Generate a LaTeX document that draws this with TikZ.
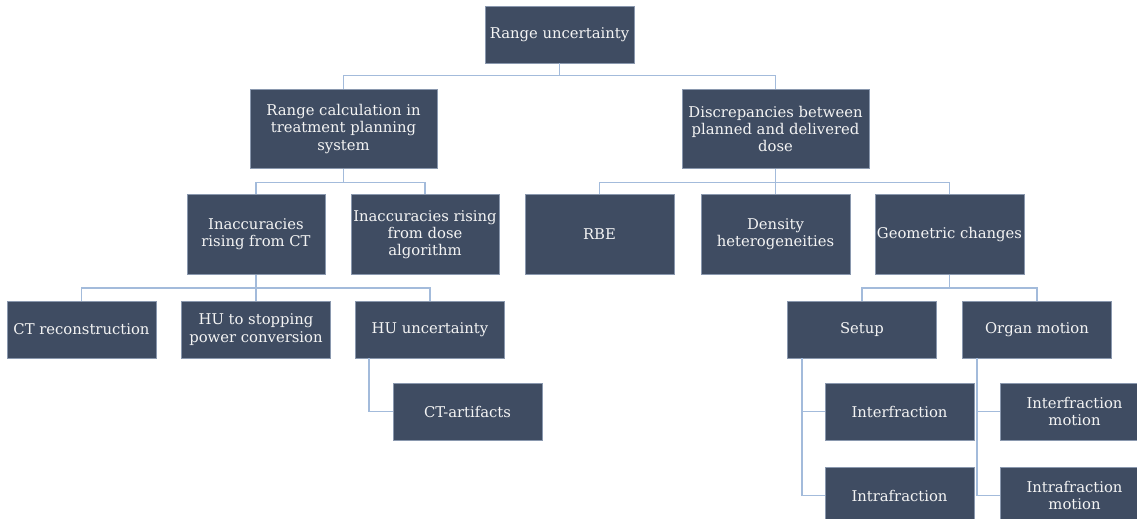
\documentclass[tikz,border=0pt]{standalone}
\usepackage{fontspec}
\setmainfont{DejaVu Serif}
\usetikzlibrary{positioning,calc}
\definecolor{boxfill}{HTML}{3F4C62}
\definecolor{boxedge}{HTML}{8A98AE}
\definecolor{linkblue}{HTML}{A3BBDB}
\definecolor{boxtext}{HTML}{F4F4F4}
\begin{document}
\begin{tikzpicture}[x=1pt,y=-1pt,
  box/.style={draw=boxedge, line width=0.6pt, fill=boxfill, text=boxtext,
    minimum width=149pt, minimum height=57pt, inner sep=1pt, align=center,
    font=\fontsize{14.8}{17.3}\selectfont},
  tallbox/.style={box, minimum height=79.5pt},
  link/.style={draw=linkblue, line width=1.5pt}]
\useasboundingbox (0,0) rectangle (1137,519);
\clip (0,0) rectangle (1137,519);

% top level
\node[box] (root) at (559.5,34.5) {Range uncertainty};

% second level
\node[tallbox, minimum width=187pt] (calc) at (343.5,129) {Range calculation in\\treatment planning\\system};
\node[tallbox, minimum width=187pt] (disc) at (775.5,129) {Discrepancies between\\planned and delivered\\dose};

% third level
\node[tallbox, minimum width=138pt] (inct) at (256,234.5) {Inaccuracies\\rising from CT};
\node[tallbox, minimum width=148pt] (indose) at (425,234.5) {Inaccuracies rising\\from dose\\algorithm};
\node[tallbox] (rbe) at (599.5,234.5) {RBE};
\node[tallbox] (dens) at (775.5,234.5) {Density\\heterogeneities};
\node[tallbox] (geom) at (949.5,234.5) {Geometric changes};

% fourth level
\node[box] (ctrec) at (81.5,329.5) {CT reconstruction};
\node[box] (hustop) at (256,329.5) {HU to stopping\\power conversion};
\node[box] (huunc) at (430,329.5) {HU uncertainty};
\node[box] (ctart) at (467.5,411.5) {CT-artifacts};
\node[box] (setup) at (862,329.5) {Setup};
\node[box] (organ) at (1037,329.5) {Organ motion};
\node[box] (inter) at (899.5,411.5) {Interfraction};
\node[box] (intra) at (899.5,495.5) {Intrafraction};
\node[box] (intermo) at (1074.5,411.5) {Interfraction\\motion};
\node[box] (intramo) at (1074.5,495.5) {Intrafraction\\motion};

% tree connectors
\draw[link] (root.south) -- ++(0,12) coordinate (b0);
\draw[link] (b0) -| (calc.north);
\draw[link] (b0) -| (disc.north);

\draw[link] (calc.south) -- ++(0,13.5) coordinate (b1);
\draw[link] (b1) -| (inct.north);
\draw[link] (b1) -| (indose.north);

\draw[link] (disc.south) -- ++(0,13.5) coordinate (b2);
\draw[link] (b2) -| (rbe.north);
\draw[link] (b2) -| (dens.north);
\draw[link] (b2) -| (geom.north);

\draw[link] (inct.south) -- ++(0,13.5) coordinate (b3);
\draw[link] (b3) -| (ctrec.north);
\draw[link] (b3) -| (hustop.north);
\draw[link] (b3) -| (huunc.north);

\draw[link] (geom.south) -- ++(0,13.5) coordinate (b4);
\draw[link] (b4) -| (setup.north);
\draw[link] (b4) -| (organ.north);

% side connectors
\draw[link] ([xshift=14pt]huunc.south west) |- (ctart.west);
\draw[link] ([xshift=15pt]setup.south west) |- (inter.west);
\draw[link] ([xshift=15pt]setup.south west) |- (intra.west);
\draw[link] ([xshift=15pt]organ.south west) |- (intermo.west);
\draw[link] ([xshift=15pt]organ.south west) |- (intramo.west);
\end{tikzpicture}
\end{document}
